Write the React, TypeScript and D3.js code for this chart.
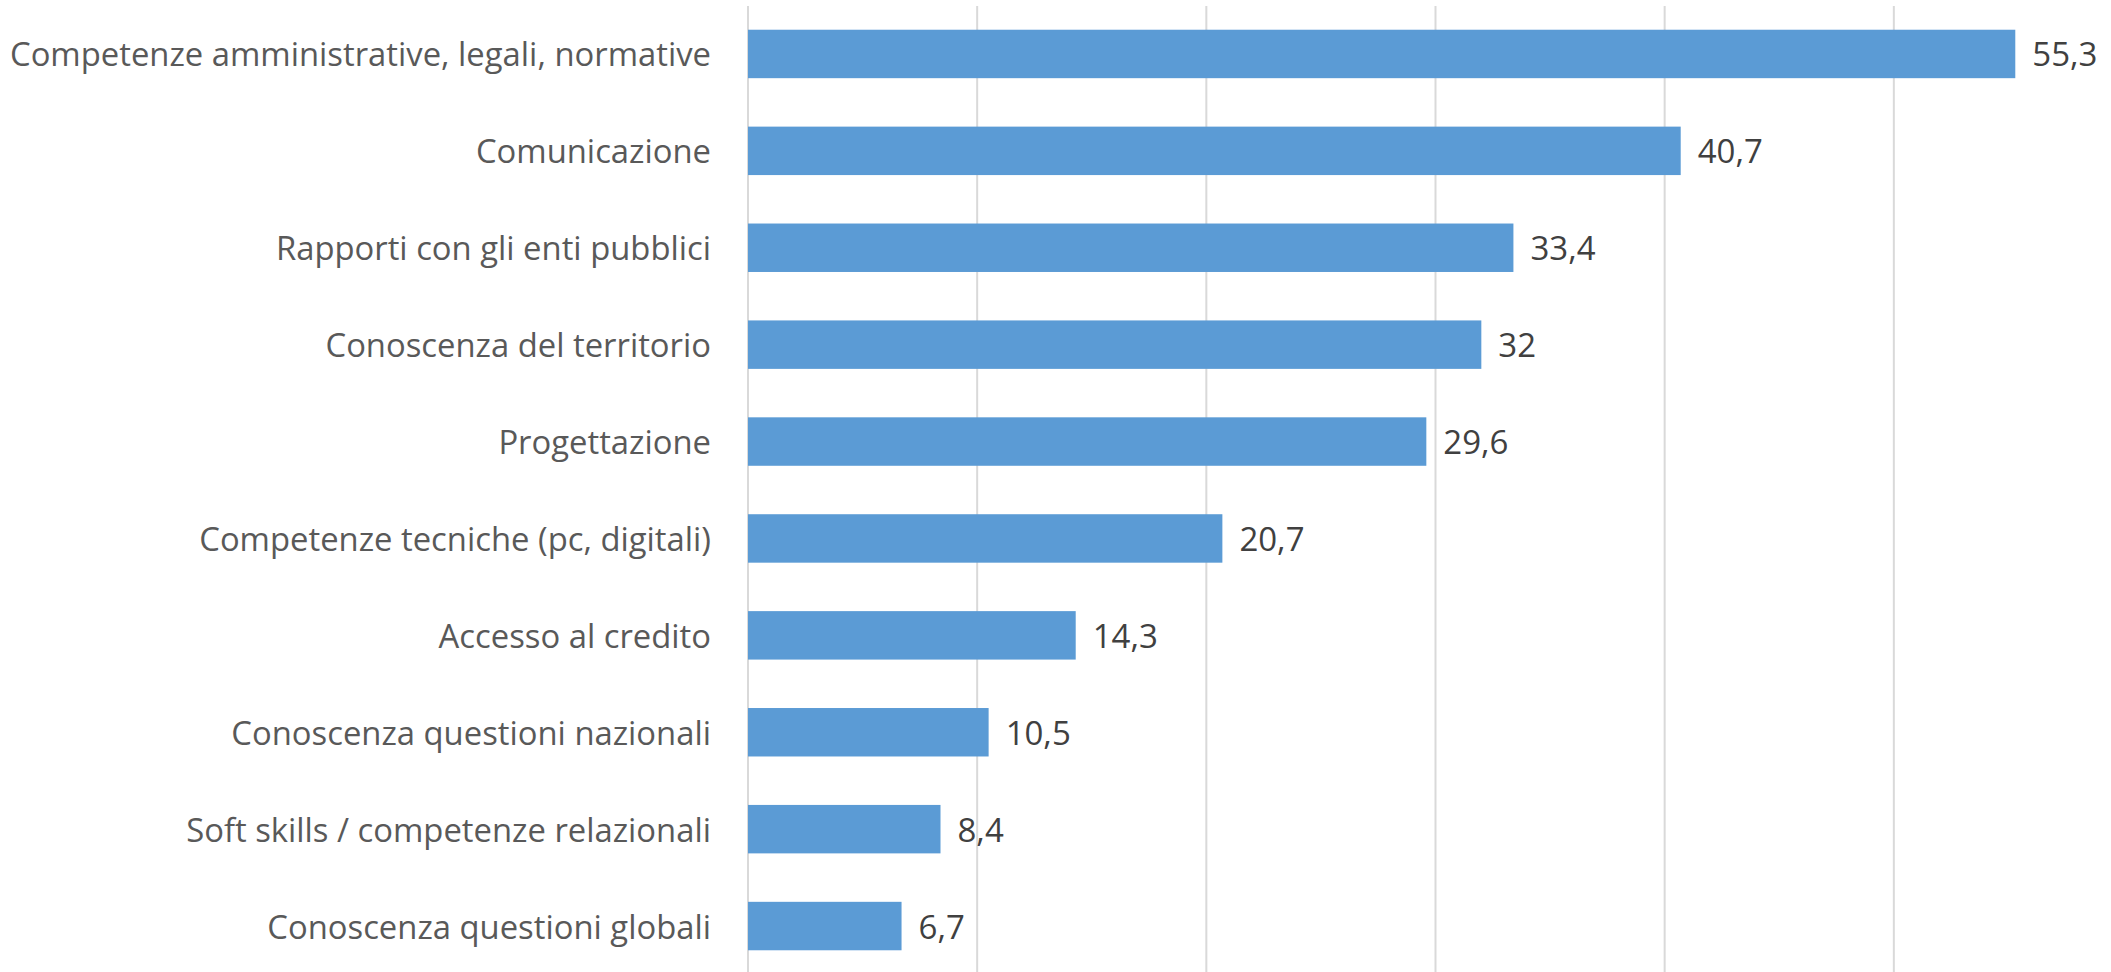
import React from "react";
import * as d3 from "d3";

const categories: string[] = [
  "Competenze amministrative, legali, normative",
  "Comunicazione",
  "Rapporti con gli enti pubblici",
  "Conoscenza del territorio",
  "Progettazione",
  "Competenze tecniche (pc, digitali)",
  "Accesso al credito",
  "Conoscenza questioni nazionali",
  "Soft skills / competenze relazionali",
  "Conoscenza questioni globali",
];
const values: number[] = [55.3, 40.7, 33.4, 32, 29.6, 20.7, 14.3, 10.5, 8.4, 6.7];
const gridTicks: number[] = [0, 10, 20, 30, 40, 50];

const W = 2111;
const H = 972;
const FONT = "'Open Sans', 'Noto Sans', sans-serif";

export default function App() {
  const x = d3.scaleLinear().domain([0, 60]).range([748, 2123]);
  const y = d3
    .scaleBand<string>()
    .domain(categories)
    .range([5.5, 974.5])
    .paddingInner(0.5)
    .paddingOuter(0.25);
  const fmt = (v: number) => String(v).replace(".", ",");
  const [top, bottom] = [6, 972];

  return (
    <div style={{ position: "absolute", left: 0, top: 0 }}>
      <svg width={W} height={H} style={{ display: "block", background: "#fff" }}>
        {gridTicks.map((t) => (
          <line
            key={t}
            x1={x(t)}
            x2={x(t)}
            y1={top}
            y2={bottom}
            stroke="#d9d9d9"
            strokeWidth={2}
          />
        ))}
        {categories.map((c, i) => {
          const yy = y(c)!;
          const bw = y.bandwidth();
          return (
            <g key={c}>
              <rect
                x={x(0)}
                y={yy}
                width={x(values[i]) - x(0)}
                height={bw}
                fill="#5b9bd5"
              />
              <text
                x={711}
                y={yy + bw / 2}
                textAnchor="end"
                dominantBaseline="central"
                fontFamily={FONT}
                fontSize={32.8}
                fill="#595959"
              >
                {c}
              </text>
              <text
                x={x(values[i]) + 17}
                y={yy + bw / 2}
                textAnchor="start"
                dominantBaseline="central"
                fontFamily={FONT}
                fontSize={33}
                fill="#404040"
              >
                {fmt(values[i])}
              </text>
            </g>
          );
        })}
      </svg>
    </div>
  );
}
